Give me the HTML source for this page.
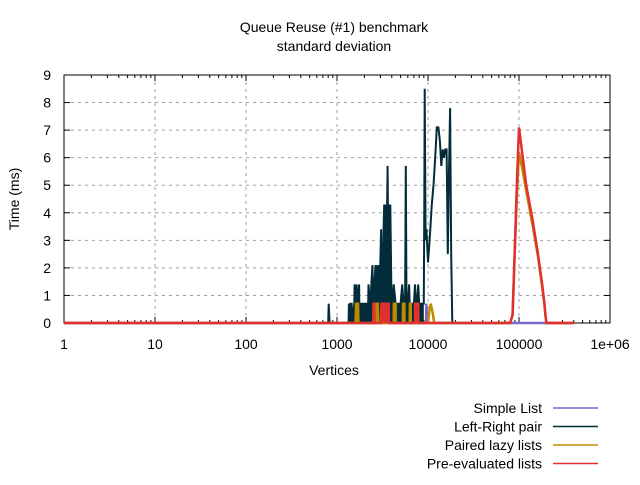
<!DOCTYPE html>
<html><head><meta charset="utf-8"><style>
body{margin:0;background:#fff;}
svg text{font-family:"Liberation Sans",sans-serif;font-size:14px;fill:#000;}
</style></head><body>
<svg id="c" width="640" height="480" viewBox="0 0 640 480">
<text x="334" y="32" text-anchor="middle">Queue Reuse (#1) benchmark</text>
<text x="334" y="51" text-anchor="middle">standard deviation</text>
<text transform="translate(19,199) rotate(-90)" text-anchor="middle">Time (ms)</text>
<text x="334" y="375" text-anchor="middle">Vertices</text>
<g id="grid"></g><g id="axes"></g><g id="series"></g><g id="legend"></g>
</svg>
<script>
const xTicks=[1,10,100,1000,10000,100000,1000000];
const xTickLabels=["1","10","100","1000","10000","100000","1e+06"];
const yTicks=[0,1,2,3,4,5,6,7,8,9];
const seriesNames=["Simple List","Left-Right pair","Paired lazy lists","Pre-evaluated lists"];
const seriesColors=["#7b68c8","#032c3a","#c08a00","#e03030"];
const fillLimit=[0,9000,9000,9000];
const simpleX=[1,9500,9600,9800,90000,400000];
const simpleY=[0,0,0.7,0,0,0];
const lrX=[1,800,810,830,850,1340,1350,1380,1400,1450,1460,1550,1560,1620,1640,1680,1700,1750,1760,2200,2220,2300,2320,2450,2500,2650,2700,2800,2820,2900,2950,3050,3100,3300,3350,3400,3450,3600,3650,3700,3800,3850,3950,4000,4100,4200,4400,4500,4600,4800,5000,5200,5400,5600,5700,5800,6000,6200,6300,6400,6500,6800,7000,7200,7400,7600,7800,8000,8200,8600,8800,9000,9100,9200,9400,9600,9800,10000,10300,10600,11000,11500,12000,12500,13000,13500,14000,14500,15000,15500,16000,16500,17000,17500,18000,18500,19000,19500,20000,20500];
const lrY=[0,0,0.7,0,0,0,0.7,0,0.7,0.7,0,0.7,1.4,0.7,1.4,0.7,0.7,1.4,0.7,0.7,1.4,0.7,0.7,2.1,0.7,2.1,1.4,2.1,0.7,2.1,1.4,3.4,0.7,4.3,1.4,4.3,0.7,5.7,2.8,4.3,2.1,4.3,1.4,0.7,0.7,1.4,0.7,0.7,0.7,0.7,0.7,1.4,0.7,0.7,5.7,0.7,0.7,1.4,0.7,0.7,0.7,0.7,0.7,1.4,0.7,0.7,1.4,0.7,0.7,0.7,0.7,0.7,4.3,8.5,3.0,3.4,2.8,2.2,2.8,3.4,4.3,5.0,6.0,7.1,7.1,6.6,5.7,6.3,6.0,6.3,6.3,2.5,5.5,7.8,2.5,0,0,0,0,0];
const plX=[1,1600,1620,1700,1720,2700,2720,2800,2850,4200,4220,4400,4420,5300,5320,5500,5520,6300,6320,6450,6470,10000,10300,10700,11200,11700,12100,80000,85000,90000,95000,100000,110000,120000,140000,160000,180000,190000,195000,200000,400000];
const plY=[0,0,0.7,0.7,0,0,0.7,0.7,0,0,0.7,0.7,0,0,0.7,0.7,0,0,0.7,0.7,0,0,0.4,0.7,0.4,0,0,0,0.3,2.6,4.7,6.2,5.5,4.8,3.6,2.5,1.3,0.7,0.3,0,0];
const peX=[1,2500,2520,2560,2580,3050,3070,3700,3720,7200,7220,7800,7820,80000,85000,90000,95000,100000,110000,120000,140000,160000,180000,190000,195000,200000,400000];
const peY=[0,0,0.7,0.7,0,0,0.7,0.7,0,0,0.7,0.7,0,0,0.3,2.7,5.2,7.1,6.0,5.0,3.8,2.6,1.4,0.7,0.3,0,0];
const L=64,R=610,T=75,B=323;
const sx=v=>L+(Math.log10(v)/6)*(R-L);
const sy=v=>B-(v/9)*(B-T);
const NS="http://www.w3.org/2000/svg";
function mk(p,t,a){const e=document.createElementNS(NS,t);for(const k in a)e.setAttribute(k,a[k]);p.appendChild(e);return e;}
const grid=document.getElementById('grid'),axes=document.getElementById('axes');
yTicks.forEach(v=>{
 if(v>0&&v<9){const g=mk(grid,'line',{x1:L,x2:R,y1:sy(v),y2:sy(v),stroke:'#a0a0a0','stroke-dasharray':'3,4'});
 
 }
 const t=mk(axes,'text',{x:51,y:sy(v)+5,'text-anchor':'end'});t.textContent=v;
 
 
 mk(axes,'line',{x1:L,x2:L+6,y1:sy(v),y2:sy(v),stroke:'#000'});
 mk(axes,'line',{x1:R,x2:R-6,y1:sy(v),y2:sy(v),stroke:'#000'});
});
xTicks.forEach((v,i)=>{
 const x=sx(v);
 if(i>0&&i<6){const g=mk(grid,'line',{x1:x,x2:x,y1:T,y2:B,stroke:'#a0a0a0','stroke-dasharray':'3,4'});
 
 }
 const t=mk(axes,'text',{x:x,y:349,'text-anchor':'middle'});t.textContent=xTickLabels[i];
 
 
 mk(axes,'line',{x1:x,x2:x,y1:B,y2:B-6,stroke:'#000'});
 mk(axes,'line',{x1:x,x2:x,y1:T,y2:T+6,stroke:'#000'});
 if(i<6)for(let m=2;m<10;m++){const mx=sx(v*m);
  mk(axes,'line',{x1:mx,x2:mx,y1:B,y2:B-3,stroke:'#000'});
  mk(axes,'line',{x1:mx,x2:mx,y1:T,y2:T+3,stroke:'#000'});}
});
const fr=mk(axes,'rect',{x:L,y:T,width:R-L,height:B-T,fill:'none',stroke:'#000'});


const ser=document.getElementById('series');
const data=[[simpleX,simpleY],[lrX,lrY],[plX,plY],[peX,peY]];
[0,1,2,3].forEach(i=>{
 const [xs,ys]=data[i];
 if(fillLimit[i]>0){
  const fp=[];xs.forEach((x,j)=>{if(x>=1000&&x<=fillLimit[i])fp.push(sx(x).toFixed(1)+','+sy(ys[j]).toFixed(1));});
  if(fp.length){const f0=fp[0].split(',')[0],f1=fp[fp.length-1].split(',')[0];
   const poly=mk(ser,'polygon',{points:f0+','+B+' '+fp.join(' ')+' '+f1+','+B,fill:seriesColors[i],stroke:'none'});
   
   }
 }
 const pts=xs.map((x,j)=>sx(x).toFixed(1)+','+sy(ys[j]).toFixed(1)).join(' ');
 const p=mk(ser,'polyline',{points:pts,fill:'none',stroke:seriesColors[i],'stroke-width':i==1?2:2.5,'stroke-linejoin':'miter'});
 
 
});
const lg=document.getElementById('legend');
seriesNames.forEach((n,i)=>{
 const y=408+i*18.5;
 const t=mk(lg,'text',{x:542,y:y+5,'text-anchor':'end'});t.textContent=n;
 
 
 const l=mk(lg,'line',{x1:553,x2:598,y1:y,y2:y,stroke:seriesColors[i],'stroke-width':1.5});
 
 
});
</script>
</body></html>
